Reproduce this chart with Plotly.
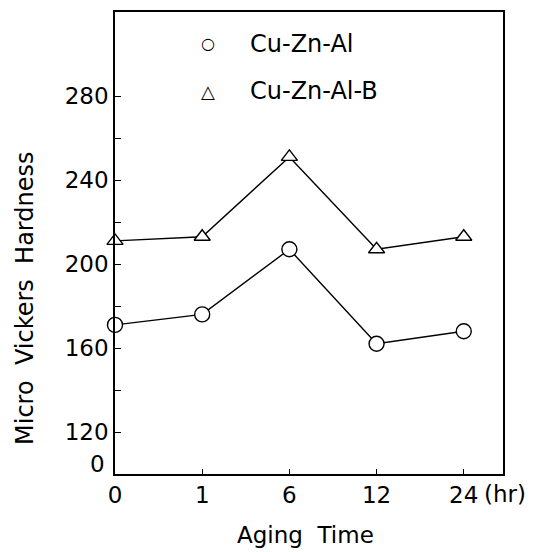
import plotly.graph_objects as go

# aging time categories (hr) and hardness readings
aging_time = ["0", "1", "6", "12", "24"]
cu_zn_al = [171, 176, 207, 162, 168]
cu_zn_al_b = [211, 213, 251, 207, 213]

# y axis: broken axis, bottom labelled 0
y_ticks = [100, 120, 140, 160, 180, 200, 220, 240, 260, 280]
y_labels = ["", "120", "", "160", "", "200", "", "240", "", "280"]

font_name = "DejaVu Sans, Liberation Sans, sans-serif"
sp = "\u00a0 "  # wide word gaps like the original lettering

fig = go.Figure()

fig.add_trace(go.Scatter(
    x=aging_time, y=cu_zn_al_b, mode="lines+markers", name="Cu-Zn-Al-B",
    line=dict(color="black", width=1.4),
    marker=dict(symbol="triangle-up", size=14, color="white",
                line=dict(color="black", width=1.4)),
    cliponaxis=False, showlegend=False,
))
fig.add_trace(go.Scatter(
    x=aging_time, y=cu_zn_al, mode="lines+markers", name="Cu-Zn-Al",
    line=dict(color="black", width=1.4),
    marker=dict(symbol="circle", size=15, color="white",
                line=dict(color="black", width=1.4)),
    cliponaxis=False, showlegend=False,
))

# page body adds an 8px offset, so the figure is 8px smaller and margins shifted
fig.update_layout(
    width=529, height=544,
    margin=dict(l=107, r=34, t=2, b=78),
    plot_bgcolor="white", paper_bgcolor="white",
    font=dict(family=font_name, size=23, color="black"),
    xaxis=dict(type="category", range=[0, 4.45],
               showline=True, mirror=True, linecolor="black", linewidth=1.6,
               ticks="inside", ticklen=5, tickwidth=1.2, tickcolor="black",
               showgrid=False, zeroline=False,
               tickfont=dict(size=23)),
    yaxis=dict(range=[100, 320], tickmode="array", tickvals=y_ticks, ticktext=y_labels,
               showline=True, mirror=True, linecolor="black", linewidth=1.6,
               ticks="inside", ticklen=6, tickwidth=1.2, tickcolor="black",
               showgrid=False, zeroline=False,
               tickfont=dict(size=23)),
)

annots = [
    dict(text="0", x=-0.02, y=0.022, xanchor="right", yanchor="middle", font=dict(size=23)),
    dict(text="(hr)", x=1.005, y=-0.043, xanchor="center", yanchor="middle", font=dict(size=23)),
    dict(text="Aging" + sp + "Time", x=0.49, y=-0.133, xanchor="center", yanchor="middle",
         font=dict(size=23)),
    dict(text="Micro" + sp + "Vickers" + sp + "Hardness", x=-0.232, y=0.381, textangle=-90,
         xanchor="center", yanchor="middle", font=dict(size=24)),
    dict(text="○", x=0.24, y=0.931, xanchor="center", yanchor="middle", font=dict(size=16)),
    dict(text="Cu-Zn-Al", x=0.343, y=0.931, xanchor="left", yanchor="middle", font=dict(size=24)),
    dict(text="△", x=0.24, y=0.829, xanchor="center", yanchor="middle", font=dict(size=18)),
    dict(text="Cu-Zn-Al-B", x=0.343, y=0.829, xanchor="left", yanchor="middle", font=dict(size=24)),
]
for a in annots:
    fig.add_annotation(xref="paper", yref="paper", showarrow=False, **a)

fig.write_html("out.html")
